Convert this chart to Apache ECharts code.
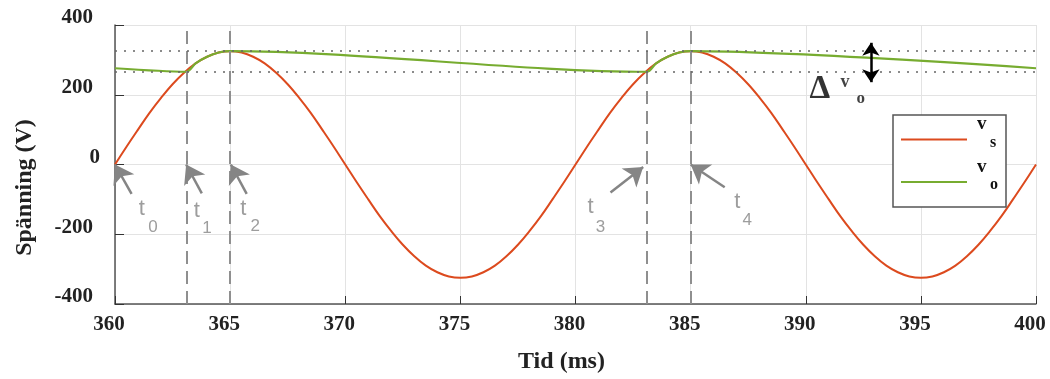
<!DOCTYPE html>
<html>
<head>
<meta charset="utf-8">
<script src="https://cdn.jsdelivr.net/npm/echarts@6/dist/echarts.min.js"></script>
<style>
  html, body { margin: 0; padding: 0; background: #fff; }
  #chart { width: 1050px; height: 379px; }
</style>
</head>
<body>
<div id="chart"></div>
<script>
// source voltage, sampled every 0.5 ms from 360 ms
const vsStart = 360;
const vsStep = 0.5;
const vsValues = [
  0, 51, 100, 148, 191, 230, 263, 290, 309, 321, 325, 321, 309, 290, 263, 230, 191, 148, 100, 51,
  0, -51, -100, -148, -191, -230, -263, -290, -309, -321, -325, -321, -309, -290, -263, -230, -191, -148, -100, -51,
  0, 51, 100, 148, 191, 230, 263, 290, 309, 321, 325, 321, 309, 290, 263, 230, 191, 148, 100, 51,
  0, -51, -100, -148, -191, -230, -263, -290, -309, -321, -325, -321, -309, -290, -263, -230, -191, -148, -100, -51,
  0
];
// output voltage (peak detector)
const voTime = [360, 363.1, 363.5, 364, 364.5, 365, 383.1, 383.5, 384, 384.5, 385, 400];
const voValues = [276, 266, 290, 309, 321, 325, 266, 290, 309, 321, 325, 276];

const dashedTimes = [363.1, 365, 383.1, 385];
const dottedLevels = [325, 266];

// pointer arrows: tail -> tip
const arrowTails = [[360.72, -84], [363.77, -83], [365.72, -84], [381.52, -80], [386.48, -65]];
const arrowTips = [[360, 0], [363.09, 0], [365.03, 0], [382.94, -7], [385, 0]];
const tNames = ['0', '1', '2', '3', '4'];
const tPos = [[361.16, -126], [363.55, -132], [365.57, -126], [380.65, -123], [387.03, -108]];
const subPos = [[361.65, -180], [363.99, -183], [366.09, -178], [381.09, -180], [387.46, -160]];

const deltaArrow = [[392.83, 349], [392.83, 236]];

const serif = '"Liberation Serif", "DejaVu Serif", serif';
const sans = '"Liberation Sans", Arial, sans-serif';
const gray = '#858585';
const red = '#dc4a1e';
const green = '#77ac30';

const vsData = vsValues.map((v, i) => [vsStart + i * vsStep, v]);
const voData = voTime.map((t, i) => [t, voValues[i]]);

const textItems = [];
tNames.forEach((n, i) => {
  textItems.push({ value: tPos[i], label: { formatter: 't', fontSize: 22, color: gray, fontFamily: sans } });
  textItems.push({ value: subPos[i], label: { formatter: n, fontSize: 17, color: gray, fontFamily: sans } });
});
textItems.push({ value: [390.61, 215], label: { formatter: '\u0394', fontSize: 33, fontWeight: 'bold', color: '#000', fontFamily: serif } });
textItems.push({ value: [391.7, 235], label: { formatter: 'v', fontSize: 18, fontWeight: 'bold', color: '#111', fontFamily: serif } });
textItems.push({ value: [392.39, 190], label: { formatter: 'o', fontSize: 17, fontWeight: 'bold', color: '#111', fontFamily: serif } });

const chart = echarts.init(document.getElementById('chart'));
chart.setOption({
  animation: false,
  grid: { left: 115, right: 14, top: 25, bottom: 75, outerBoundsMode: 'none' },
  legend: {
    data: ['vs', 'vo'],
    orient: 'vertical',
    left: 893,
    top: 115,
    padding: [0, 8, 3, 8],
    itemGap: -4,
    itemWidth: 66,
    itemHeight: 14,
    borderColor: '#555',
    borderWidth: 1.5,
    backgroundColor: '#fff',
    icon: 'path://M0,6 L66,6 L66,8 L0,8 Z',
    formatter: name => `{v|v}\n{s|${name.slice(1)}}\n{e| }`,
    textStyle: {
      rich: {
        v: { fontFamily: serif, fontWeight: 'bold', fontSize: 19, color: '#111', lineHeight: 18, padding: [0, 0, 0, 5] },
        s: { fontFamily: serif, fontWeight: 'bold', fontSize: 16, color: '#111', lineHeight: 18, padding: [0, 0, 0, 18] },
        e: { fontSize: 8, lineHeight: 12 }
      }
    }
  },
  xAxis: {
    type: 'value',
    min: 360,
    max: 400,
    interval: 5,
    name: 'Tid (ms)',
    nameLocation: 'middle',
    nameGap: 46,
    nameTextStyle: { fontFamily: serif, fontWeight: 'bold', fontSize: 24, color: '#222', padding: [0, 28, 0, 0] },
    axisLine: { onZero: false, lineStyle: { color: '#555', width: 1.5 } },
    axisTick: { inside: true, length: 8, lineStyle: { color: '#333' } },
    axisLabel: { fontFamily: serif, fontWeight: 'bold', fontSize: 21, color: '#222', margin: 10, padding: [0, 12, 0, 0] },
    splitLine: { show: true, lineStyle: { color: '#e3e3e3' } }
  },
  yAxis: {
    type: 'value',
    min: -400,
    max: 400,
    interval: 200,
    name: 'Spänning (V)',
    nameLocation: 'middle',
    nameGap: 78,
    nameTextStyle: { fontFamily: serif, fontWeight: 'bold', fontSize: 24, color: '#222', padding: [0, 46, 0, 0] },
    axisLine: { show: true, onZero: false, lineStyle: { color: '#555', width: 1.5 } },
    axisTick: { show: true, inside: true, length: 9, lineStyle: { color: '#333' } },
    axisLabel: {
      fontFamily: serif, fontWeight: 'bold', fontSize: 21, color: '#222', margin: 15,
      formatter: v => (v === 0 ? '{z|0}' : `{a|${v}}`),
      rich: {
        a: { fontFamily: serif, fontWeight: 'bold', fontSize: 21, color: '#222', padding: [0, 7, 14, 0] },
        z: { fontFamily: serif, fontWeight: 'bold', fontSize: 21, color: '#222', padding: [0, 0, 14, 0] }
      }
    },
    splitLine: { show: true, lineStyle: { color: '#e3e3e3' } }
  },
  series: [
    {
      name: 'vs',
      type: 'line',
      data: vsData,
      smooth: 0.4,
      symbol: 'none',
      lineStyle: { color: red, width: 2 },
      itemStyle: { color: red },
      z: 3,
      markLine: {
        silent: true,
        symbol: 'none',
        label: { show: false },
        data: [
          ...dashedTimes.map(t => ({ xAxis: t, lineStyle: { type: [13, 7], color: '#8f8f8f', width: 2 } })),
          ...dottedLevels.map(v => ({ yAxis: v, lineStyle: { type: [2, 7], color: '#666', width: 1.6 } }))
        ]
      }
    },
    {
      name: 'vo',
      type: 'line',
      data: voData,
      smooth: 0.3,
      symbol: 'none',
      lineStyle: { color: green, width: 2.2 },
      itemStyle: { color: green },
      z: 4,
      markLine: {
        silent: true,
        label: { show: false },
        lineStyle: { color: gray, width: 2.5, type: 'solid' },
        data: [
          ...arrowTails.map((tail, i) => [
            { coord: tail, symbol: 'none' },
            { coord: arrowTips[i], symbol: 'arrow', symbolSize: 18 }
          ]),
          [
            { coord: deltaArrow[0], symbol: 'arrow', symbolSize: 13, lineStyle: { color: '#000', width: 2.5 } },
            { coord: deltaArrow[1], symbol: 'arrow', symbolSize: 13 }
          ]
        ]
      }
    },
    {
      name: 'text',
      type: 'scatter',
      symbolSize: 0,
      silent: true,
      data: textItems,
      label: { show: true, position: 'inside' },
      z: 5
    }
  ]
});
</script>
</body>
</html>
